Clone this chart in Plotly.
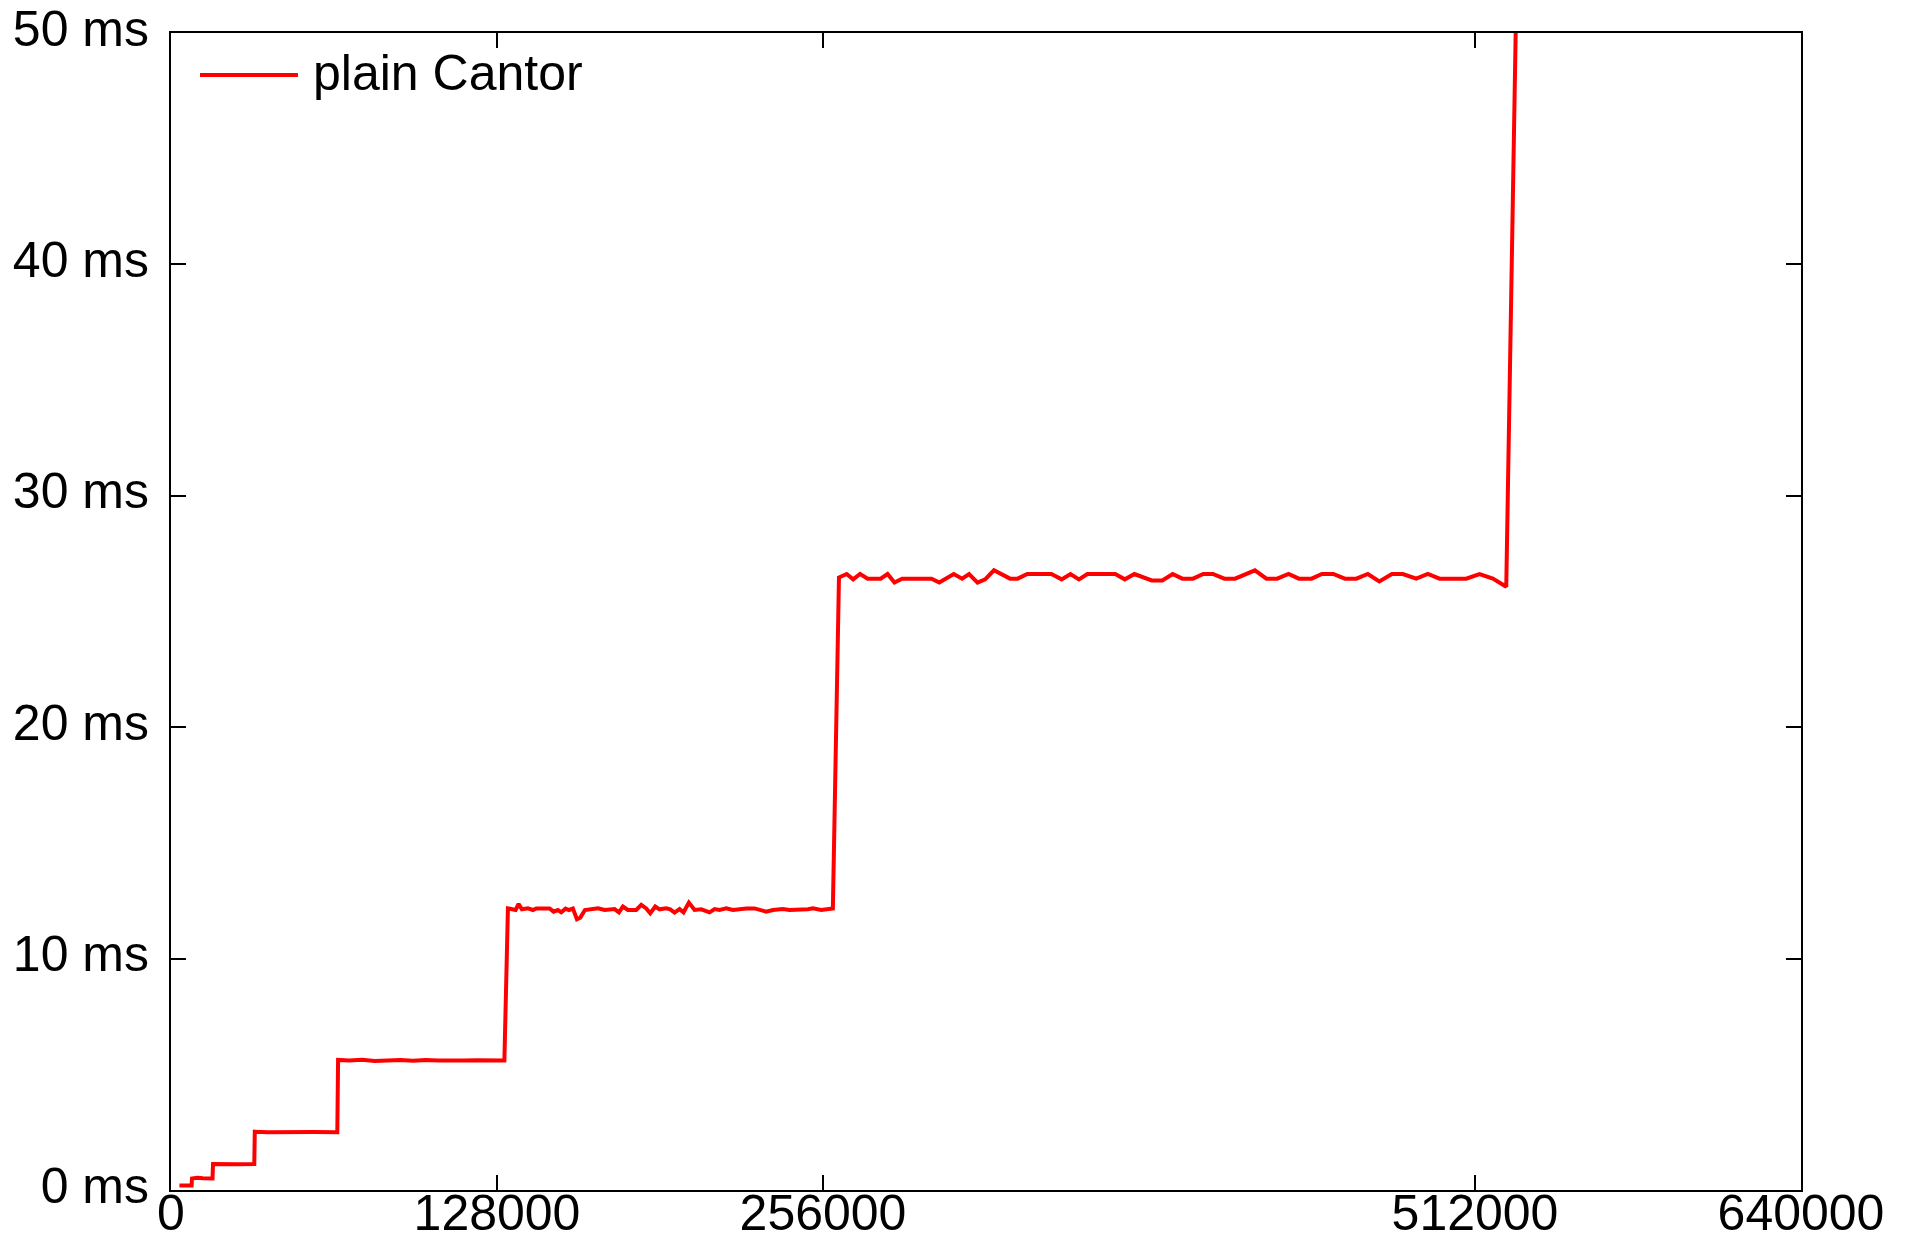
import plotly.graph_objects as go

# ---- data: x = elements, y = time in ms ----
lvl0_x = [3300, 8100]
lvl0_y = [0.19, 0.19]

lvl1_x = [8250, 10500, 12500, 16300]
lvl1_y = [0.50, 0.53, 0.51, 0.50]

lvl2_x = [16500, 20000, 26000, 32700]
lvl2_y = [1.12, 1.13, 1.11, 1.12]

lvl3_x = [32900, 38000, 44000, 50000, 56000, 65300]
lvl3_y = [2.52, 2.50, 2.51, 2.50, 2.51, 2.50]

lvl4_x = [65600, 70000, 75000, 80000, 85000, 90000, 95000, 100000,
          105000, 110000, 115000, 120000, 125000, 128000, 130900]
lvl4_y = [5.62, 5.60, 5.63, 5.58, 5.60, 5.62, 5.59, 5.62,
          5.60, 5.58, 5.60, 5.61, 5.59, 5.62, 5.60]

lvl5_x = [132290, 134250, 135300, 136480, 137780, 140140, 142100, 143420,
          148650, 150220, 151920, 153230, 154930, 156240, 157810, 159380,
          160690, 162530, 166320, 167630, 170240, 174170, 175870, 177440,
          179400, 182670, 184640, 186600, 188170, 190140, 191830, 194440,
          196020, 197720, 199680, 201250, 203340, 205570, 208190, 211460,
          213430, 215390, 218010, 220630, 225870, 229140, 233710, 236330,
          240260, 242870, 250070, 252030, 255300, 259870]
lvl5_y = [12.17, 12.13, 12.10, 12.36, 12.13, 12.17, 12.10, 12.17,
          12.17, 12.03, 12.10, 12.00, 12.16, 12.10, 12.16, 11.70,
          11.77, 12.10, 12.13, 12.17, 12.10, 12.14, 12.00, 12.25,
          12.10, 12.10, 12.32, 12.17, 11.96, 12.25, 12.13, 12.17,
          12.13, 11.99, 12.14, 12.00, 12.42, 12.10, 12.13, 12.00,
          12.14, 12.10, 12.17, 12.10, 12.17, 12.17, 12.03, 12.10,
          12.14, 12.10, 12.13, 12.17, 12.10, 12.17]

lvl6_x = [262270, 265290, 267850, 270560, 273540, 278640, 281350, 284060,
          287080, 298630, 301650, 307340, 310640, 313350, 316680, 319670,
          323120, 329440, 332430, 336200, 345660, 349700, 353160, 356490,
          359790, 370740, 374510, 378280, 385040, 389240, 393290, 397060,
          401260, 405300, 409080, 413590, 417790, 425600, 430120, 434320,
          438790, 442870, 447820, 451900, 456380, 460890, 465410, 469920,
          474440, 479390, 483670, 488930, 493480, 498080, 503300, 508560,
          513780, 519010, 524270]
lvl6_y = [26.47, 26.62, 26.39, 26.62, 26.42, 26.42, 26.62, 26.25,
          26.42, 26.42, 26.25, 26.62, 26.42, 26.62, 26.25, 26.39,
          26.78, 26.42, 26.42, 26.62, 26.62, 26.39, 26.62, 26.39,
          26.62, 26.62, 26.39, 26.62, 26.34, 26.34, 26.62, 26.42,
          26.42, 26.62, 26.62, 26.42, 26.42, 26.78, 26.42, 26.42,
          26.62, 26.42, 26.42, 26.62, 26.62, 26.42, 26.42, 26.62,
          26.30, 26.62, 26.62, 26.42, 26.62, 26.42, 26.42, 26.42,
          26.62, 26.42, 26.07]

lvl7_x = [528900]
lvl7_y = [56.0]

series_name = "plain Cantor"
x_tickvals = [0, 128000, 256000, 512000, 640000]
x_ticktext = ["0", "128000", "256000", "512000", "640000"]
y_tickvals = [0, 10, 20, 30, 40, 50]
y_ticktext = ["0 ms", "10 ms", "20 ms", "30 ms", "40 ms", "50 ms"]

xs = lvl0_x + lvl1_x + lvl2_x + lvl3_x + lvl4_x + lvl5_x + lvl6_x + lvl7_x
ys = lvl0_y + lvl1_y + lvl2_y + lvl3_y + lvl4_y + lvl5_y + lvl6_y + lvl7_y

FONT = "Liberation Sans, Arial, Helvetica, sans-serif"
RED = "#ff0000"
FS = 50

fig = go.Figure()
fig.add_trace(go.Scatter(x=xs, y=ys, mode="lines", name=series_name,
                         line=dict(color=RED, width=4), showlegend=False))

axis_common = dict(showline=True, linecolor="black", linewidth=2, mirror="ticks",
                   ticks="inside", ticklen=15, tickwidth=2, tickcolor="black",
                   showgrid=False, zeroline=False, automargin=False,
                   ticklabeloverflow="allow",
                   tickfont=dict(family=FONT, size=FS, color="black"))

fig.update_xaxes(range=[0, 640000], tickmode="array", tickvals=x_tickvals,
                 ticktext=x_ticktext, ticklabelstandoff=-22, **axis_common)
fig.update_yaxes(range=[0, 50], tickmode="array", tickvals=y_tickvals,
                 ticktext=y_ticktext, ticklabelstandoff=10, ticklabelshift=-5,
                 **axis_common)

# legend drawn in the top-left corner of the plot
fig.add_shape(type="line", xref="paper", yref="paper",
              x0=0.0178, x1=0.0779, y0=0.9637, y1=0.9637,
              line=dict(color=RED, width=4))
fig.add_annotation(xref="paper", yref="paper", x=0.0860, y=0.9655,
                   xanchor="left", yanchor="middle", showarrow=False,
                   text=series_name, font=dict(family=FONT, size=FS, color="black"))

fig.update_layout(width=1906, height=1243,
                  margin=dict(l=171, r=105, t=33, b=53),
                  paper_bgcolor="white", plot_bgcolor="white",
                  showlegend=False)

# remove the browser's default page margin so the figure fills the window exactly
fig.write_html("out.html", config={"displayModeBar": False},
               post_script="document.body.style.margin='0px';"
                           "document.body.style.padding='0px';"
                           "document.body.style.overflow='hidden';")
